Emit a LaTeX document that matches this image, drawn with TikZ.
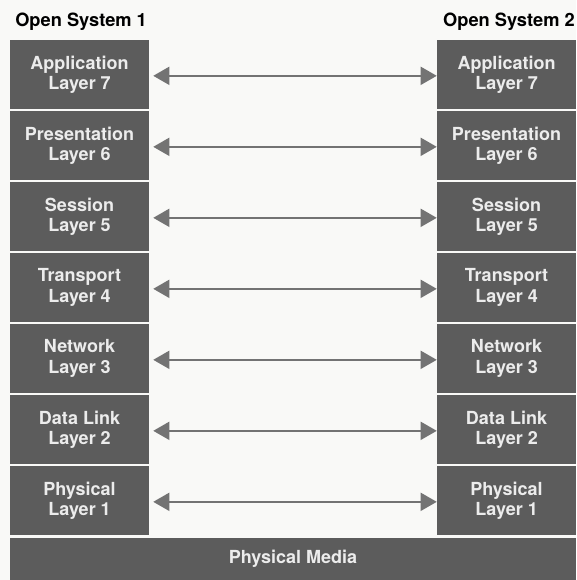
\documentclass[tikz,border=0pt]{standalone}
\usepackage{fontspec}
\setmainfont{TeX Gyre Heros}
\usetikzlibrary{arrows.meta}
\definecolor{boxgray}{HTML}{5C5C5C}
\definecolor{boxtext}{HTML}{ECECEC}
\definecolor{linkgray}{HTML}{737373}
\definecolor{paper}{HTML}{F9F9F7}
\tikzset{
  layerbox/.style={fill=boxgray, text=boxtext, inner sep=0pt,
    minimum width=104.25pt, minimum height=51.75pt, align=center,
    font=\bfseries\fontsize{13.5}{15.2}\selectfont},
  mediabox/.style={fill=boxgray, text=boxtext, inner sep=0pt,
    minimum width=424.5pt, minimum height=31.5pt,
    font=\bfseries\fontsize{13.5}{15.2}\selectfont},
  systitle/.style={inner sep=0pt, font=\bfseries\fontsize{13.7}{15}\selectfont},
  peerlink/.style={draw=linkgray, line width=1.1pt,
    {Triangle[length=12pt,width=13.5pt]}-{Triangle[length=12pt,width=13.5pt]},
    shorten <=3pt}
}
\begin{document}
\begin{tikzpicture}[x=0.75pt,y=-0.75pt]
  % canvas, 576 x 580 px
  \fill[paper] (0,0) rectangle (576,580);
  \useasboundingbox (0,0) rectangle (576,580);

  \node[systitle, anchor=base west] (t1) at (15,27) {Open System 1};
  \node[systitle, anchor=base east] (t2) at (575,27) {Open System 2};

  % the seven layers of each stack, top (7) to bottom (1)
  \foreach \n/\name [count=\k from 0] in {7/Application,6/Presentation,5/Session,4/Transport,3/Network,2/Data Link,1/Physical} {
    \pgfmathsetmacro{\yc}{40+71*\k+34.5}
    \node[layerbox] (L\n) at (79.5,\yc) {\name\\Layer \n};
    \node[layerbox] (R\n) at (506.5,\yc) {\name\\Layer \n};
    \draw[peerlink] ([yshift=-1pt]L\n.east) -- ([yshift=-1pt]R\n.west);
  }

  \node[mediabox] (media) at (293,559) {Physical Media};
\end{tikzpicture}
\end{document}
